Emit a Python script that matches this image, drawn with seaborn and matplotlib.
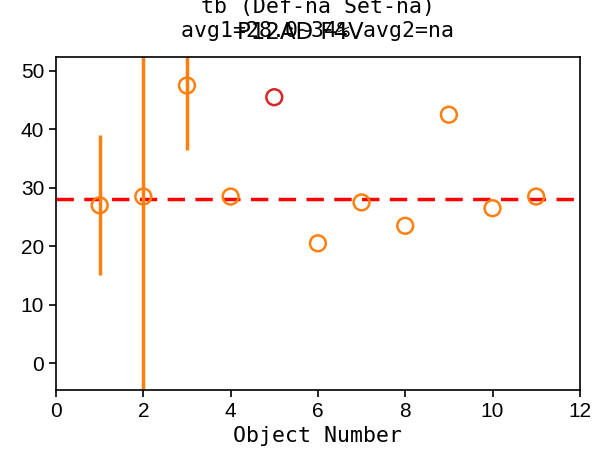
import matplotlib
matplotlib.use("Agg")
import matplotlib.pyplot as plt
import seaborn as sns
import pandas as pd

obj = [1, 2, 3, 4, 5, 6, 7, 8, 9, 10, 11]
vals = [27.0, 28.5, 47.5, 28.5, 45.5, 20.5, 27.5, 23.5, 42.5, 26.5, 28.5]
err_obj = [1, 2, 3]
err_vals = [27.0, 28.5, 47.5]
err_lo = [12.0, 33.5, 11.0]
err_hi = [12.0, 33.5, 11.0]
flag = ["ok", "ok", "ok", "ok", "bad", "ok", "ok", "ok", "ok", "ok", "ok"]
avg1 = 28.0

sns.set_style("ticks", {"axes.edgecolor": "black", "xtick.color": "black",
                        "ytick.color": "black", "text.color": "black",
                        "axes.labelcolor": "black"})
plt.rcParams['font.family'] = ['Liberation Sans', 'DejaVu Sans']

fig = plt.figure(figsize=(5.99, 4.66), dpi=100)
ax = fig.add_axes([0.0935, 0.163, 0.8745, 0.715])

ax.errorbar(err_obj, err_vals, yerr=[err_lo, err_hi], fmt='none',
            ecolor='#ff7f0e', elinewidth=2.5, capsize=0, zorder=2)
df = pd.DataFrame({"obj": obj, "val": vals, "flag": flag})
sns.scatterplot(data=df, x="obj", y="val", hue="flag",
                palette={"ok": "#ff7f0e", "bad": "#d62728"},
                marker="o", s=130, linewidth=1.8,
                legend=False, ax=ax, zorder=3)
for coll in ax.collections:
    if len(coll.get_offsets()) == len(obj):
        coll.set_facecolor("none")
        coll.set_edgecolor([("#ff7f0e" if f == "ok" else "#d62728") for f in flag])
ax.axhline(avg1, color='red', linestyle='--', linewidth=2.5, dashes=(5, 3), zorder=1)

ax.set_xlim(0, 12)
ax.set_ylim(-4.6, 52.4)
ax.set_xticks([0, 2, 4, 6, 8, 10, 12])
ax.set_yticks([0, 10, 20, 30, 40, 50])
ax.tick_params(labelsize=15, width=1.2, length=5, colors='black')
for s in ax.spines.values():
    s.set_linewidth(1.2)
    s.set_color('black')
    s.set_visible(True)
ax.set_xlabel("Object Number", fontsize=15.5, family=['DejaVu Sans Mono'], labelpad=4)
ax.set_ylabel("")
ax.set_title("tb (Def-na Set-na)\navg1=28.0~34% avg2=na", fontsize=15.5,
             family=['DejaVu Sans Mono'], pad=14, linespacing=1.3)
fig.text(0.501, 0.93, "P12AD F4V", ha='center', va='center', fontsize=16.5,
         family=['DejaVu Sans'])

fig.savefig("out.png", dpi=100)
